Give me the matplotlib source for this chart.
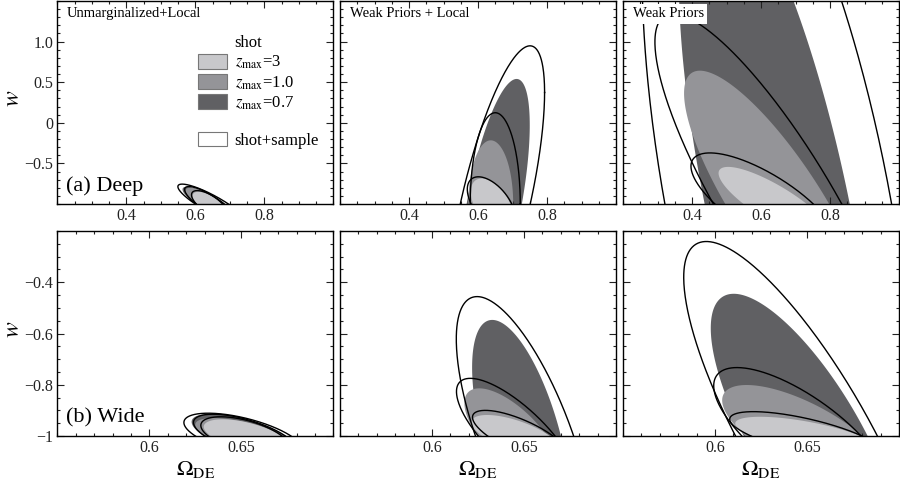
import numpy as np
import matplotlib
matplotlib.use('Agg')
import matplotlib.pyplot as plt
from matplotlib.patches import Patch
from matplotlib.ticker import MultipleLocator

plt.rcParams['font.family'] = ['Liberation Serif', 'DejaVu Serif']
plt.rcParams['mathtext.fontset'] = 'stix'

# ---------------- data ----------------
w_fid = -1.0
row_names = ['(a) Deep', '(b) Wide']
panel_titles = ['Unmarginalized+Local', 'Weak Priors + Local', 'Weak Priors']
legend_title = 'shot'
legend_labels = [r'$z_{\rm max}$=3', r'$z_{\rm max}$=1.0', r'$z_{\rm max}$=0.7']
legend_sample = 'shot+sample'

# contour columns: shot z3, shot z1.0, shot z0.7, shot+sample z3, shot+sample z1.0, shot+sample z0.7
deep_center = [[0.640, 0.641, 0.643, 0.641, 0.643, 0.648],
               [0.640, 0.637, 0.647, 0.639, 0.650, 0.650],
               [0.641, 0.647, 0.647, 0.609, 0.648, 0.650]]
deep_sig_om = [[0.048, 0.069, 0.080, 0.052, 0.074, 0.0985],
               [0.061, 0.065, 0.103, 0.070, 0.0725, 0.143],
               [0.164, 0.270, 0.285, 0.212, 0.3555, 0.395]]
deep_sig_w = [[0.150, 0.200, 0.212, 0.165, 0.215, 0.245],
              [0.315, 0.784, 1.540, 0.335, 1.124, 1.948],
              [0.457, 1.642, 4.060, 0.629, 2.340, 5.220]]
deep_rho = [[-0.64, -0.81, -0.846, -0.68, -0.83, -0.873],
            [-0.475, 0.0, 0.63, -0.54, 0.0, 0.705],
            [-0.83, -0.83, -0.675, -0.74, -0.852, -0.555]]

wide_center = [[0.6525, 0.652, 0.652, 0.652, 0.652, 0.651],
               [0.6457, 0.6436, 0.6485, 0.648, 0.646, 0.6503],
               [0.6496, 0.6483, 0.6493, 0.6497, 0.647, 0.6497]]
wide_sig_om = [[0.0229, 0.027, 0.029, 0.024, 0.028, 0.0322],
               [0.0242, 0.026, 0.0267, 0.026, 0.0327, 0.0371],
               [0.0386, 0.0444, 0.0516, 0.0417, 0.0477, 0.0667]]
wide_sig_w = [[0.065, 0.070, 0.086, 0.075, 0.085, 0.089],
              [0.082, 0.186, 0.453, 0.100, 0.225, 0.544],
              [0.075, 0.199, 0.555, 0.095, 0.267, 0.759]]
wide_rho = [[-0.55, -0.63, -0.64, -0.55, -0.62, -0.59],
            [-0.65, -0.69, -0.59, -0.73, -0.77, -0.695],
            [-0.65, -0.70, -0.758, -0.69, -0.734, -0.816]]

deep_xticks = [0.4, 0.6, 0.8]
deep_xticklabels = ['0.4', '0.6', '0.8']
deep_yticks = [-0.5, 0.0, 0.5, 1.0]
deep_yticklabels = ['\u22120.5', '0', '0.5', '1.0']
wide_xticks = [0.6, 0.65]
wide_xticklabels = ['0.6', '0.65']
wide_yticks = [-1.0, -0.8, -0.6, -0.4]
wide_yticklabels = ['\u22121', '\u22120.8', '\u22120.6', '\u22120.4']

# ---------------- style ----------------
fill_colors = ['#c8c8cb', '#949498', '#606063']
edge_gray = '#777777'

fig = plt.figure(figsize=(9, 4.88), dpi=100)
W, H = 900.0, 488.0
lefts = [57.3, 340.0, 623.0]
pw = 276.0
rows = [(1.0, 204.0), (231.0, 436.0)]


def ellipse(c, sx, sy, rho, n=500):
    t = np.linspace(0, 2 * np.pi, n)
    d = np.arccos(np.clip(rho, -1, 1))
    return c + sx * np.cos(t), w_fid + sy * np.cos(t + d)


rowdata = [(deep_center, deep_sig_om, deep_sig_w, deep_rho),
           (wide_center, wide_sig_om, wide_sig_w, wide_rho)]

axes = []
for r in range(2):
    top, bot = rows[r]
    row_axes = []
    for p in range(3):
        ax = fig.add_axes([lefts[p] / W, 1 - bot / H, pw / W, (bot - top) / H])
        cen, sx, sy, rh = rowdata[r]
        # filled shot-noise contours: largest (z=0.7) first
        for k in [2, 1, 0]:
            x, y = ellipse(cen[p][k], sx[p][k], sy[p][k], rh[p][k])
            ax.fill(x, y, color=fill_colors[k], lw=0, zorder=1 + (2 - k))
        for k in [3, 4, 5]:
            x, y = ellipse(cen[p][k], sx[p][k], sy[p][k], rh[p][k])
            ax.plot(x, y, color='black', lw=1.0, zorder=5)
        if r == 0:
            ax.set_xlim(0.2, 1.0)
            ax.set_ylim(-1.0, 1.5)
            ax.set_xticks(deep_xticks)
            ax.set_xticklabels(deep_xticklabels)
            ax.set_yticks(deep_yticks)
            ax.xaxis.set_minor_locator(MultipleLocator(0.05))
            ax.yaxis.set_minor_locator(MultipleLocator(0.1))
            if p == 0:
                ax.set_yticklabels(deep_yticklabels)
            else:
                ax.set_yticklabels([])
        else:
            ax.set_xlim(0.55, 0.70)
            ax.set_ylim(-1.0, -0.2)
            ax.set_xticks(wide_xticks)
            ax.set_xticklabels(wide_xticklabels)
            ax.set_yticks(wide_yticks)
            ax.xaxis.set_minor_locator(MultipleLocator(0.01))
            ax.yaxis.set_minor_locator(MultipleLocator(0.05))
            if p == 0:
                ax.set_yticklabels(wide_yticklabels)
            else:
                ax.set_yticklabels([])
            ax.set_xlabel(r'$\Omega_{\rm DE}$', fontsize=16, labelpad=2)
        ax.tick_params(which='both', direction='in', top=True, right=True,
                       labelsize=11.5, width=0.8, colors='#222222', pad=3)
        ax.tick_params(which='major', length=5)
        ax.tick_params(which='minor', length=2.5)
        for s in ax.spines.values():
            s.set_linewidth(1.0)
            s.set_zorder(10)
        if p == 0:
            ax.set_ylabel(r'$w$', fontsize=17)
            ax.yaxis.set_label_coords(-0.122, 0.52)
            ax.text(0.03, 0.04, row_names[r], transform=ax.transAxes,
                    fontsize=16, ha='left', va='bottom', zorder=12)
        if r == 0:
            kw = {}
            if p == 2:
                kw = dict(bbox=dict(facecolor='white', edgecolor='none', pad=2.5))
            ax.text(0.035, 0.968, panel_titles[p], transform=ax.transAxes,
                    fontsize=10.5, ha='left', va='top', zorder=12, **kw)
        row_axes.append(ax)
    axes.append(row_axes)

# legend in top-left panel
ax0 = axes[0][0]
h_shot = [Patch(facecolor='none', edgecolor='none')] + \
         [Patch(facecolor=fill_colors[k], edgecolor=edge_gray, lw=0.8) for k in range(3)]
leg1 = ax0.legend(h_shot, [legend_title] + legend_labels, loc='upper left',
                  bbox_to_anchor=(0.51, 0.835), frameon=False, fontsize=12,
                  handlelength=1.75, handleheight=0.95, labelspacing=0.16,
                  handletextpad=0.45, borderpad=0, borderaxespad=0)
ax0.add_artist(leg1)
h_ss = [Patch(facecolor='white', edgecolor=edge_gray, lw=0.8)]
ax0.legend(h_ss, [legend_sample], loc='upper left', bbox_to_anchor=(0.51, 0.355),
           frameon=False, fontsize=12, handlelength=1.75, handleheight=0.95,
           handletextpad=0.45, borderpad=0, borderaxespad=0)

fig.savefig('out.png', dpi=100)
